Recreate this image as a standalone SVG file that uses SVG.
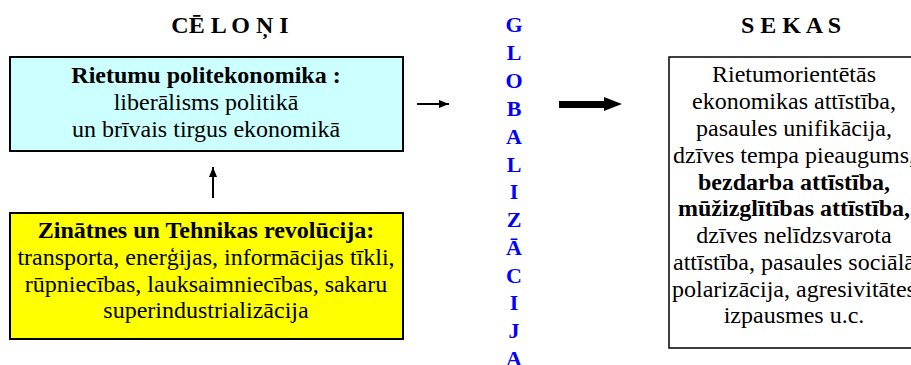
<svg xmlns="http://www.w3.org/2000/svg" width="911" height="365" viewBox="0 0 911 365">
<style>
text{font-family:'Liberation Serif','Times New Roman','DejaVu Serif',serif;font-size:24px;fill:#000;text-anchor:middle}
.b{font-weight:bold}
.g{font-weight:bold;fill:#0000FF;font-size:22px}
.box{stroke:#000;stroke-width:2}
.ln{stroke:#000;stroke-width:2;fill:none}
</style>
<defs>
<marker id="ah" markerWidth="10" markerHeight="8" refX="10" refY="4" orient="auto" markerUnits="userSpaceOnUse">
<path d="M0,0 L10,4 L0,8 Z" fill="#000"/>
</marker>
</defs>
<g id="title-celoni"><text class="b" x="230" y="33">CĒ L O Ņ I</text></g>
<g id="title-sekas"><text class="b" x="791" y="33">S E K A S</text></g>
<g id="node-rietumu">
<rect class="box" x="10" y="57" width="393" height="94" fill="#CCFFFF"/>
<text class="b" x="206" y="83">Rietumu politekonomika :</text>
<text x="206" y="110">liberālisms politikā</text>
<text x="206" y="137">un brīvais tirgus ekonomikā</text>
</g>
<g id="node-zinatnes">
<rect class="box" x="10" y="213" width="393" height="126" fill="#FFFF00"/>
<text class="b" x="206" y="238">Zinātnes un Tehnikas revolūcija:</text>
<text x="206" y="265">transporta, enerģijas, informācijas tīkli,</text>
<text x="206" y="292">rūpniecības, lauksaimniecības, sakaru</text>
<text x="206" y="318">superindustrializācija</text>
</g>
<g id="node-globalizacija">
<text class="g" x="514" y="32">G</text>
<text class="g" x="514" y="60">L</text>
<text class="g" x="514" y="88">O</text>
<text class="g" x="514" y="116">B</text>
<text class="g" x="514" y="144">A</text>
<text class="g" x="514" y="172">L</text>
<text class="g" x="514" y="199">I</text>
<text class="g" x="514" y="227">Z</text>
<text class="g" x="514" y="255">Ā</text>
<text class="g" x="514" y="283">C</text>
<text class="g" x="514" y="310">I</text>
<text class="g" x="514" y="338">J</text>
<text class="g" x="514" y="366">A</text>
</g>
<g id="node-sekas">
<rect x="669" y="57" width="252" height="291" fill="#FFFFFF" stroke="#000" stroke-width="1.5"/>
<text x="794" y="82">Rietumorientētās</text>
<text x="794" y="109">ekonomikas attīstība,</text>
<text x="794" y="136">pasaules unifikācija,</text>
<text x="794" y="163">dzīves tempa pieaugums,</text>
<text class="b" x="794" y="190">bezdarba attīstība,</text>
<text class="b" x="794" y="216">mūžizglītības attīstība,</text>
<text x="794" y="243">dzīves nelīdzsvarota</text>
<text x="794" y="270">attīstība, pasaules sociālā</text>
<text x="794" y="297">polarizācija, agresivitātes</text>
<text x="794" y="323">izpausmes u.c.</text>
</g>
<g id="connectors">
<line class="ln" x1="213" y1="198" x2="213" y2="167" marker-end="url(#ah)"/>
<line class="ln" x1="417" y1="104" x2="449" y2="104" marker-end="url(#ah)"/>
<path d="M559,101 L604,101 L604,97 L622,104 L604,111 L604,108 L559,108 Z" fill="#000"/>
</g>
</svg>
